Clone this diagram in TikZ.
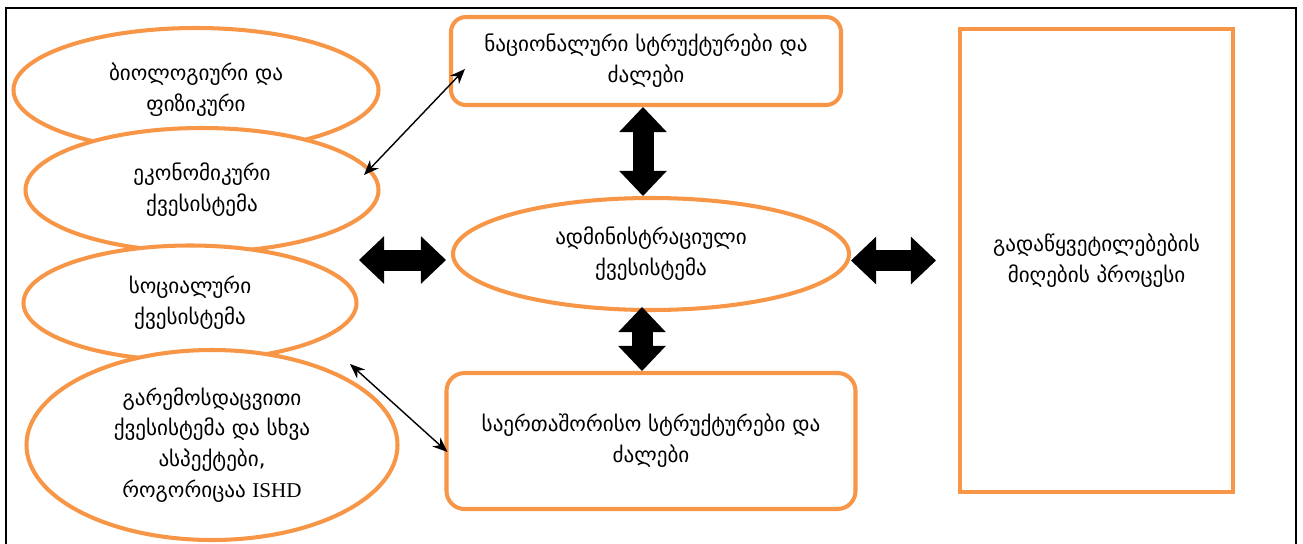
\documentclass[tikz,border=0pt]{standalone}
\usepackage{fontspec}
\setmainfont{DejaVu Sans}
\newfontfamily\latserif{Liberation Serif}
\usetikzlibrary{shapes.geometric,positioning,arrows.meta}
\definecolor{boxorange}{HTML}{F79646}

\begin{document}
\begin{tikzpicture}[on grid,
   every node/.style={align=center,font=\fontsize{12}{17.5}\selectfont},
   oval/.style={ellipse,draw=boxorange,line width=2.3pt,fill=white,inner sep=0pt},
   block/.style={rectangle,draw=boxorange,line width=2.3pt,fill=white,inner sep=0pt},
   link/.style={{Stealth[length=3mm,width=2.4mm]}-{Stealth[length=3mm,width=2.4mm]},line width=0.8pt},
   fat/.style={{Triangle[length=0.5cm,width=0.95cm,line width=0pt]}-{Triangle[length=0.5cm,width=0.95cm,line width=0pt]},line width=0.42cm}]
   \useasboundingbox (0,0) rectangle (26.06,-10.88);
   \draw[line width=1.4pt] (0.12,-11.2) -- (0.12,-0.16) -- (25.92,-0.16) -- (25.92,-11.2);

   % left column
   \node[oval,minimum width=7.30cm,minimum height=2.48cm] (bio) at (3.92,-1.80) {ბიოლოგიური და\\ფიზიკური};
   \node[oval,minimum width=7.06cm,minimum height=2.48cm] (eco) [below=2.0cm of bio,xshift=0.12cm] {ეკონომიკური\\ქვესისტემა};
   \node[oval,minimum width=6.66cm,minimum height=2.30cm] (soc) [below=2.26cm of eco,xshift=-0.24cm] {სოციალური\\ქვესისტემა};
   \node[oval,minimum width=7.42cm,minimum height=3.80cm] (env) [below=2.84cm of soc,xshift=0.44cm] {გარემოსდაცვითი\\ქვესისტემა და სხვა\\ასპექტები,\\როგორიცაა {\latserif ISHD}};

   % middle column
   \node[block,rounded corners=0.3cm,minimum width=7.80cm,minimum height=1.76cm] (nat) at (12.92,-1.22) {ნაციონალური სტრუქტურები და\\ძალები};
   \node[oval,minimum width=7.92cm,minimum height=2.24cm] (adm) [below=3.86cm of nat,xshift=0.10cm] {ადმინისტრაციული\\ქვესისტემა};
   \node[block,rounded corners=0.36cm,minimum width=8.18cm,minimum height=2.72cm] (int) [below=3.74cm of adm] {საერთაშორისო სტრუქტურები და\\ძალები};

   % right box
   \node[block,minimum width=5.46cm,minimum height=9.26cm] (dec) [right=8.91cm of adm,yshift=-0.13cm] {გადაწყვეტილებების\\მიღების პროცესი};

   \coordinate (lf) at (7.18,-5.20);

   \draw[link] ([shift={(0.32,-0.16)}]nat.west) -- ([shift={(3.24,0.30)}]eco.center);
   \draw[link] ([shift={(2.76,1.62)}]env.center) -- ([shift={(0.06,-0.22)}]int.west);

   \draw[fat] ([xshift=-0.16cm]adm.north) -- ([xshift=-0.16cm]adm.north |- nat.south);
   \draw[fat,shorten <=-0.1cm] ([xshift=-0.18cm]adm.south) -- ([xshift=-0.18cm]adm.south |- int.north);
   \draw[fat,shorten >=0.1cm] (lf) -- (lf -| adm.west);
   \draw[fat,shorten >=0.44cm] (adm.east |- dec.west) -- (dec.west);
\end{tikzpicture}
\end{document}
